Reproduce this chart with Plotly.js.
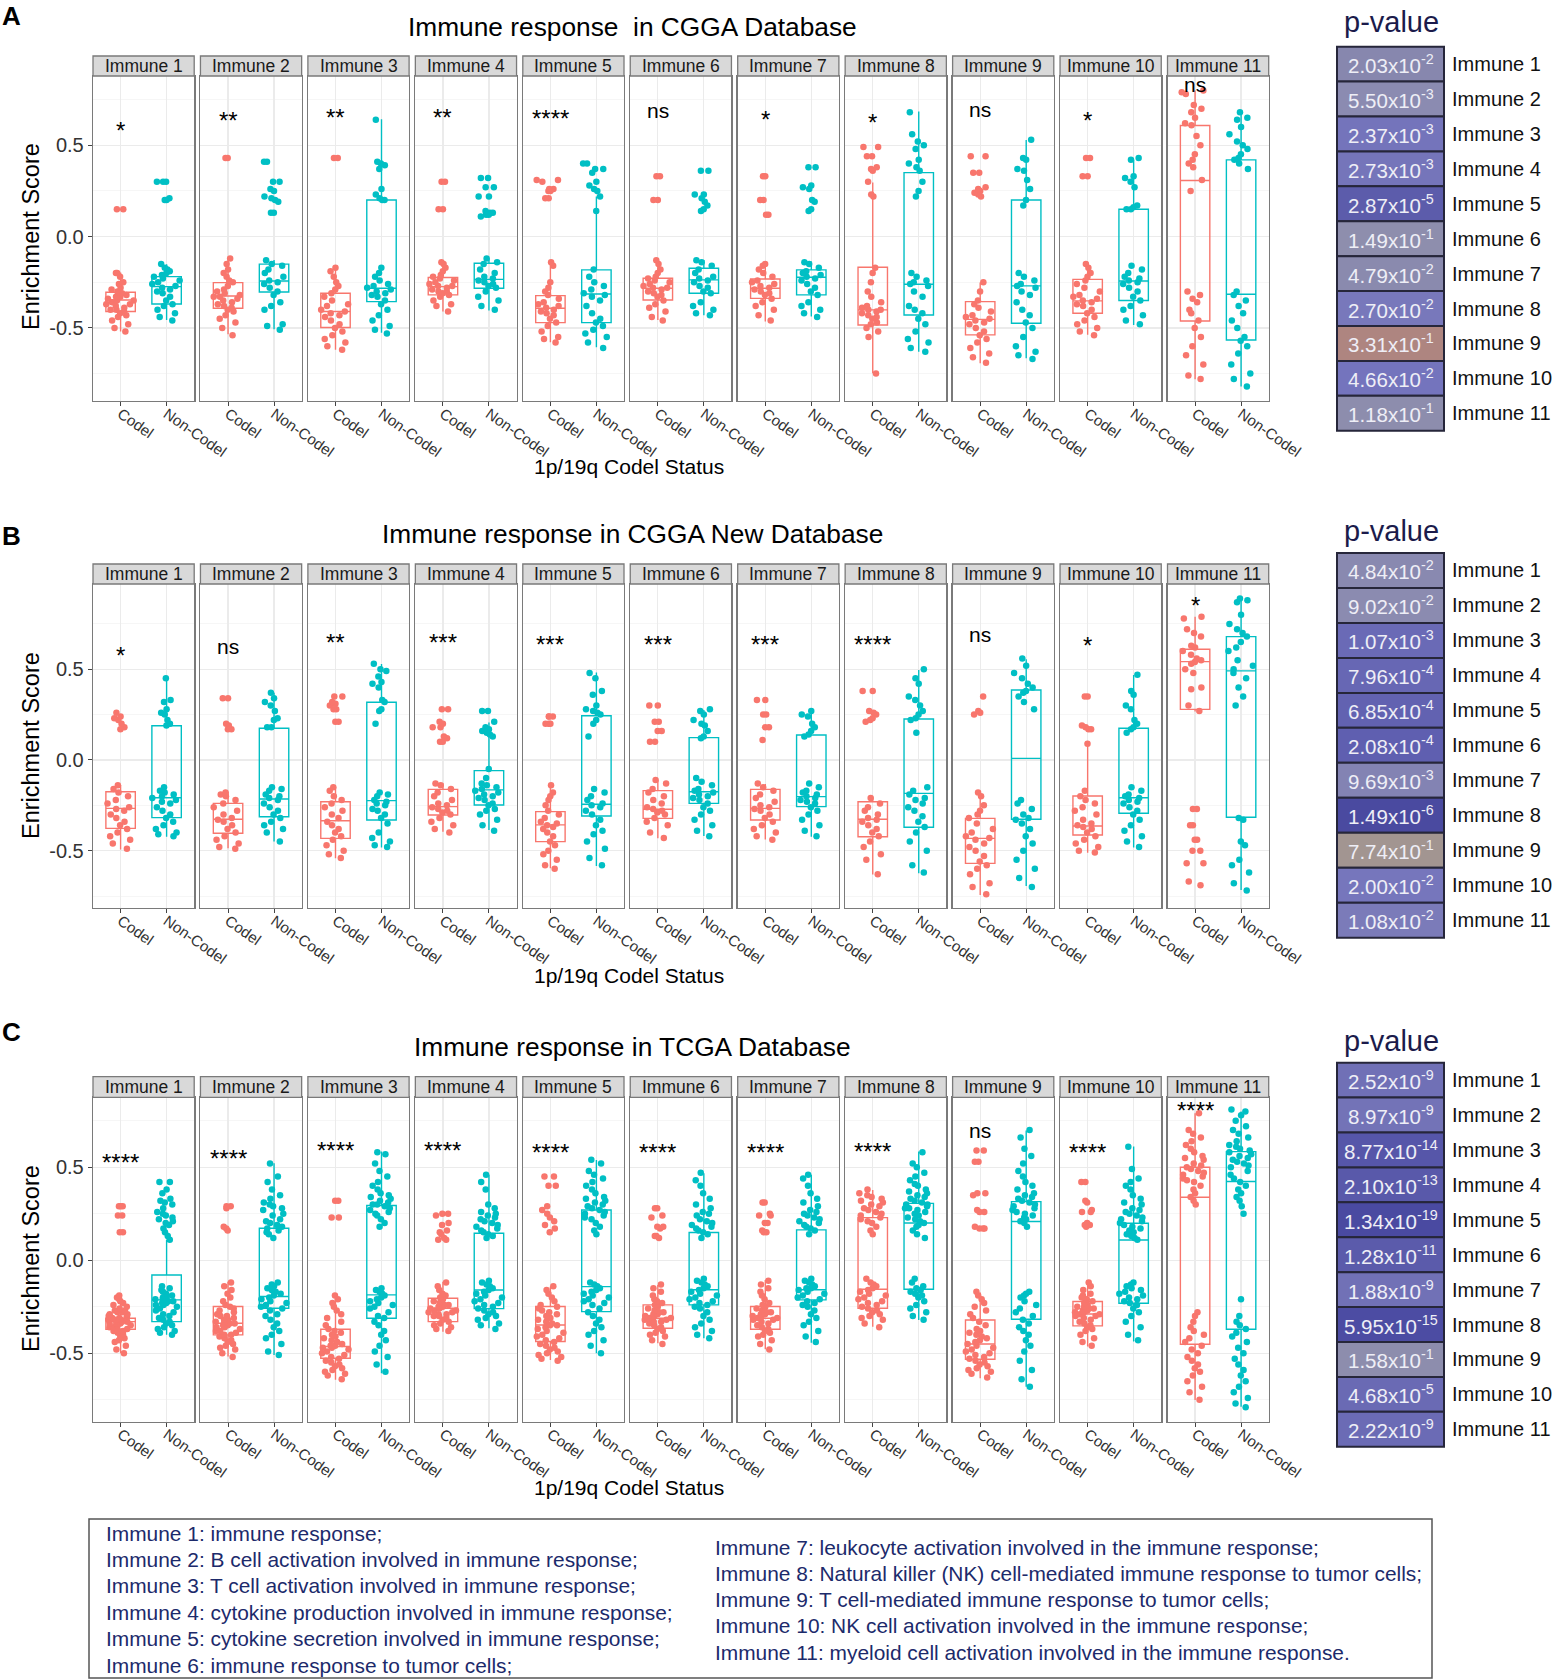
<!DOCTYPE html>
<html><head><meta charset="utf-8">
<script src="https://cdn.plot.ly/plotly-3.0.1.min.js"></script>
<style>body{margin:0;background:#fff}</style>
</head><body>
<div id="chart" style="width:1556px;height:1679px"></div>
<script>
// ---------------- DATA ----------------
const facetLabels=['Immune 1','Immune 2','Immune 3','Immune 4','Immune 5','Immune 6','Immune 7','Immune 8','Immune 9','Immune 10','Immune 11'];
const statusCats=['Codel','Non-Codel'];
const yTickVals=[-0.5,0,0.5];
const yTickText=['-0.5','0.0','0.5'];
const yMinorVals=[-0.75,-0.25,0.25,0.75];

// box stats: [lowerfence, q1, median, q3, upperfence]
const boxA_codel=[[-0.52,-0.41,-0.347,-0.305,-0.197],[-0.535,-0.392,-0.325,-0.252,-0.119],[-0.62,-0.498,-0.41,-0.31,-0.164],[-0.41,-0.319,-0.274,-0.224,-0.137],[-0.578,-0.471,-0.392,-0.323,-0.135],[-0.456,-0.347,-0.283,-0.228,-0.128],[-0.465,-0.338,-0.283,-0.232,-0.15],[-0.748,-0.484,-0.401,-0.168,0.296],[-0.693,-0.538,-0.453,-0.356,-0.252],[-0.538,-0.42,-0.352,-0.234,-0.15],[-0.781,-0.462,0.307,0.608,0.80]];
const boxA_non=[[-0.456,-0.369,-0.274,-0.219,-0.151],[-0.507,-0.303,-0.243,-0.151,-0.128],[-0.526,-0.356,-0.283,0.20,0.642],[-0.405,-0.283,-0.234,-0.146,-0.119],[-0.606,-0.471,-0.314,-0.182,0.219],[-0.43,-0.31,-0.237,-0.173,-0.128],[-0.438,-0.319,-0.223,-0.182,-0.137],[-0.63,-0.429,-0.261,0.35,0.684],[-0.666,-0.474,-0.27,0.20,0.529],[-0.484,-0.35,-0.243,0.15,0.42],[-0.821,-0.566,-0.316,0.42,0.675]];
const boxB_codel=[[-0.493,-0.377,-0.267,-0.175,-0.138],[-0.487,-0.404,-0.327,-0.239,-0.175],[-0.542,-0.432,-0.335,-0.23,-0.147],[-0.395,-0.303,-0.257,-0.162,-0.129],[-0.597,-0.45,-0.358,-0.285,-0.143],[-0.432,-0.322,-0.272,-0.169,-0.11],[-0.438,-0.331,-0.267,-0.162,-0.132],[-0.631,-0.423,-0.327,-0.23,-0.206],[-0.744,-0.57,-0.432,-0.322,-0.175],[-0.511,-0.414,-0.364,-0.199,0.088],[0.267,0.279,0.542,0.61,0.79]];
const boxB_non=[[-0.423,-0.318,-0.208,0.189,0.447],[-0.45,-0.313,-0.215,0.175,0.371],[-0.482,-0.331,-0.224,0.318,0.529],[-0.386,-0.248,-0.165,-0.059,0.206],[-0.585,-0.309,-0.244,0.244,0.482],[-0.419,-0.239,-0.175,0.123,0.276],[-0.423,-0.257,-0.202,0.138,0.267],[-0.625,-0.371,-0.184,0.226,0.496],[-0.695,-0.327,0.009,0.386,0.555],[-0.483,-0.294,-0.208,0.175,0.469],[-0.717,-0.316,0.491,0.68,0.886]];
const boxC_codel=[[-0.50,-0.371,-0.33,-0.312,-0.186],[-0.518,-0.401,-0.339,-0.249,-0.115],[-0.643,-0.527,-0.464,-0.371,-0.186],[-0.384,-0.33,-0.258,-0.204,-0.115],[-0.536,-0.437,-0.348,-0.249,-0.142],[-0.446,-0.366,-0.312,-0.24,-0.133],[-0.478,-0.371,-0.312,-0.249,-0.106],[-0.357,-0.258,-0.156,0.229,0.378],[-0.634,-0.532,-0.45,-0.321,-0.174],[-0.464,-0.353,-0.289,-0.222,-0.12],[-0.751,-0.452,0.339,0.50,0.79]];
const boxC_non=[[-0.401,-0.33,-0.213,-0.079,0.11],[-0.509,-0.258,-0.195,0.172,0.522],[-0.608,-0.312,-0.186,0.294,0.584],[-0.366,-0.26,-0.16,0.145,0.459],[-0.50,-0.276,-0.142,0.27,0.539],[-0.419,-0.24,-0.159,0.149,0.468],[-0.443,-0.213,-0.159,0.163,0.459],[-0.321,-0.156,0.20,0.306,0.584],[-0.68,-0.317,0.208,0.315,0.697],[-0.437,-0.231,0.109,0.199,0.611],[-0.787,-0.371,0.423,0.584,0.80]];

// enrichment scores of individual samples
const ptsA_codel=[
[0.15,0.15,-0.20,-0.20,-0.22,-0.25,-0.26,-0.28,-0.29,-0.30,-0.31,-0.32,-0.33,-0.33,-0.34,-0.35,-0.35,-0.36,-0.37,-0.37,-0.38,-0.39,-0.40,-0.40,-0.41,-0.42,-0.43,-0.44,-0.46,-0.48,-0.50,-0.52],
[0.43,0.43,-0.12,-0.15,-0.18,-0.20,-0.22,-0.24,-0.25,-0.27,-0.29,-0.30,-0.31,-0.32,-0.33,-0.33,-0.34,-0.35,-0.36,-0.37,-0.38,-0.39,-0.40,-0.41,-0.43,-0.45,-0.47,-0.50,-0.54],
[0.43,0.43,-0.17,-0.19,-0.22,-0.25,-0.27,-0.29,-0.31,-0.33,-0.35,-0.37,-0.38,-0.40,-0.41,-0.42,-0.43,-0.44,-0.46,-0.48,-0.50,-0.52,-0.54,-0.56,-0.58,-0.60,-0.62],
[0.30,0.30,0.15,0.15,-0.14,-0.15,-0.17,-0.19,-0.21,-0.22,-0.23,-0.24,-0.25,-0.26,-0.27,-0.27,-0.28,-0.29,-0.30,-0.30,-0.31,-0.32,-0.33,-0.35,-0.37,-0.38,-0.41],
[0.31,0.31,0.30,0.26,0.26,0.25,0.25,0.21,0.21,-0.14,-0.16,-0.25,-0.28,-0.30,-0.32,-0.34,-0.36,-0.37,-0.38,-0.39,-0.40,-0.41,-0.42,-0.43,-0.45,-0.47,-0.49,-0.52,-0.55,-0.56,-0.58],
[0.33,0.33,0.20,0.20,-0.13,-0.15,-0.18,-0.20,-0.22,-0.23,-0.24,-0.25,-0.26,-0.27,-0.28,-0.28,-0.29,-0.30,-0.31,-0.32,-0.33,-0.35,-0.37,-0.39,-0.41,-0.44,-0.46],
[0.33,0.33,0.20,0.20,0.12,0.12,-0.15,-0.16,-0.18,-0.20,-0.22,-0.24,-0.25,-0.26,-0.27,-0.28,-0.29,-0.30,-0.31,-0.32,-0.34,-0.36,-0.38,-0.40,-0.43,-0.46],
[0.49,0.49,0.44,0.44,0.38,0.37,0.36,0.30,0.23,0.22,-0.17,-0.20,-0.25,-0.30,-0.33,-0.36,-0.38,-0.39,-0.40,-0.40,-0.41,-0.42,-0.43,-0.44,-0.45,-0.47,-0.48,-0.50,-0.52,-0.55,-0.75],
[0.44,0.44,0.35,0.35,0.27,0.26,0.25,0.24,0.23,0.22,-0.25,-0.30,-0.35,-0.37,-0.39,-0.41,-0.43,-0.44,-0.45,-0.46,-0.47,-0.48,-0.50,-0.52,-0.54,-0.56,-0.58,-0.61,-0.64,-0.66,-0.69],
[0.43,0.43,0.33,0.33,-0.15,-0.17,-0.20,-0.22,-0.24,-0.26,-0.28,-0.30,-0.32,-0.33,-0.34,-0.35,-0.36,-0.37,-0.38,-0.40,-0.42,-0.44,-0.46,-0.48,-0.50,-0.52,-0.54],
[0.80,0.79,0.78,0.72,0.70,0.68,0.65,0.62,0.61,0.55,0.50,0.45,0.42,0.40,0.38,0.31,0.25,-0.30,-0.32,-0.34,-0.36,-0.40,-0.42,-0.46,-0.50,-0.55,-0.60,-0.65,-0.70,-0.76,-0.78]];
const ptsA_non=[
[0.30,0.30,0.30,0.21,0.20,0.20,-0.15,-0.17,-0.18,-0.19,-0.20,-0.21,-0.22,-0.23,-0.24,-0.25,-0.26,-0.27,-0.28,-0.29,-0.30,-0.31,-0.33,-0.35,-0.37,-0.38,-0.40,-0.42,-0.44,-0.46],
[0.41,0.41,0.30,0.30,0.26,0.25,0.22,0.21,0.20,0.19,0.13,0.13,-0.13,-0.15,-0.16,-0.18,-0.20,-0.22,-0.24,-0.25,-0.26,-0.28,-0.30,-0.32,-0.36,-0.38,-0.40,-0.48,-0.49,-0.51],
[0.64,0.41,0.40,0.39,0.37,0.26,0.23,0.21,0.20,0.20,-0.17,-0.20,-0.22,-0.24,-0.26,-0.27,-0.28,-0.29,-0.30,-0.31,-0.32,-0.33,-0.35,-0.37,-0.40,-0.43,-0.46,-0.49,-0.51,-0.53],
[0.32,0.32,0.27,0.27,0.22,0.22,0.14,0.13,0.13,0.12,0.12,0.11,-0.12,-0.14,-0.15,-0.18,-0.20,-0.22,-0.23,-0.24,-0.25,-0.26,-0.27,-0.28,-0.30,-0.33,-0.35,-0.38,-0.40],
[0.40,0.40,0.37,0.37,0.35,0.30,0.28,0.26,0.25,0.22,0.14,-0.18,-0.22,-0.25,-0.27,-0.29,-0.31,-0.32,-0.33,-0.35,-0.38,-0.42,-0.45,-0.47,-0.49,-0.51,-0.53,-0.55,-0.58,-0.61],
[0.36,0.36,0.23,0.23,0.21,0.19,0.17,0.15,0.14,-0.13,-0.14,-0.16,-0.18,-0.20,-0.22,-0.23,-0.24,-0.25,-0.27,-0.28,-0.30,-0.31,-0.36,-0.38,-0.40,-0.42,-0.43],
[0.38,0.38,0.28,0.27,0.26,0.20,0.19,0.15,0.14,-0.14,-0.15,-0.17,-0.19,-0.20,-0.21,-0.22,-0.23,-0.24,-0.26,-0.28,-0.30,-0.32,-0.36,-0.38,-0.40,-0.42,-0.44],
[0.68,0.56,0.52,0.50,0.48,0.42,0.40,0.38,0.36,0.30,0.25,0.22,-0.20,-0.22,-0.24,-0.25,-0.26,-0.27,-0.30,-0.33,-0.38,-0.40,-0.42,-0.45,-0.48,-0.52,-0.56,-0.58,-0.61,-0.63],
[0.53,0.43,0.42,0.37,0.36,0.31,0.26,0.20,0.17,-0.20,-0.22,-0.24,-0.26,-0.27,-0.28,-0.30,-0.32,-0.36,-0.40,-0.43,-0.47,-0.50,-0.55,-0.60,-0.63,-0.65,-0.67],
[0.43,0.42,0.33,0.32,0.30,0.27,0.17,0.16,0.15,0.15,-0.16,-0.18,-0.20,-0.22,-0.23,-0.24,-0.25,-0.26,-0.28,-0.30,-0.33,-0.35,-0.38,-0.40,-0.43,-0.46,-0.48],
[0.68,0.65,0.64,0.60,0.56,0.52,0.50,0.48,0.45,0.43,0.42,0.40,0.37,-0.30,-0.32,-0.35,-0.38,-0.42,-0.46,-0.50,-0.55,-0.57,-0.60,-0.64,-0.70,-0.75,-0.78,-0.82]];
const ptsB_codel=[
[0.26,0.24,0.23,0.22,0.20,0.18,0.17,-0.14,-0.16,-0.18,-0.20,-0.22,-0.24,-0.26,-0.27,-0.28,-0.30,-0.32,-0.34,-0.36,-0.38,-0.40,-0.42,-0.44,-0.46,-0.49],
[0.34,0.34,0.20,0.19,0.17,0.17,-0.18,-0.19,-0.20,-0.22,-0.24,-0.26,-0.28,-0.30,-0.32,-0.33,-0.34,-0.36,-0.38,-0.40,-0.42,-0.44,-0.46,-0.48,-0.49],
[0.35,0.35,0.32,0.31,0.30,0.28,0.28,0.21,0.21,-0.15,-0.17,-0.20,-0.22,-0.24,-0.26,-0.28,-0.30,-0.32,-0.34,-0.36,-0.38,-0.40,-0.42,-0.44,-0.47,-0.50,-0.52,-0.54],
[0.28,0.28,0.21,0.20,0.18,0.18,0.13,0.12,0.10,0.10,-0.13,-0.14,-0.16,-0.18,-0.20,-0.22,-0.24,-0.25,-0.26,-0.27,-0.28,-0.29,-0.30,-0.32,-0.34,-0.36,-0.38,-0.40],
[0.24,0.24,0.24,0.20,0.20,0.20,-0.14,-0.18,-0.20,-0.22,-0.25,-0.28,-0.30,-0.32,-0.34,-0.35,-0.36,-0.37,-0.38,-0.40,-0.42,-0.45,-0.47,-0.50,-0.52,-0.55,-0.58,-0.60],
[0.30,0.30,0.21,0.21,0.16,0.16,0.10,0.10,-0.11,-0.13,-0.16,-0.18,-0.20,-0.22,-0.24,-0.26,-0.27,-0.28,-0.29,-0.30,-0.32,-0.34,-0.36,-0.40,-0.43],
[0.33,0.33,0.25,0.25,0.18,0.18,0.11,-0.13,-0.15,-0.17,-0.19,-0.21,-0.23,-0.25,-0.26,-0.27,-0.28,-0.30,-0.32,-0.34,-0.36,-0.38,-0.40,-0.42,-0.44],
[0.38,0.38,0.27,0.26,0.25,0.23,0.22,0.21,-0.21,-0.24,-0.26,-0.28,-0.30,-0.32,-0.33,-0.34,-0.36,-0.38,-0.40,-0.42,-0.45,-0.48,-0.52,-0.55,-0.63],
[0.35,0.27,0.26,0.25,-0.18,-0.20,-0.25,-0.28,-0.30,-0.32,-0.35,-0.38,-0.40,-0.42,-0.43,-0.44,-0.46,-0.48,-0.50,-0.53,-0.56,-0.58,-0.60,-0.63,-0.68,-0.70,-0.74],
[0.35,0.35,0.19,0.18,0.17,0.17,0.09,-0.17,-0.20,-0.22,-0.24,-0.26,-0.28,-0.30,-0.33,-0.35,-0.36,-0.37,-0.38,-0.40,-0.42,-0.44,-0.46,-0.48,-0.50,-0.51],
[0.79,0.78,0.72,0.70,0.68,0.63,0.62,0.60,0.58,0.56,0.55,0.54,0.53,0.50,0.48,0.40,0.39,0.30,0.27,-0.27,-0.27,-0.36,-0.36,-0.44,-0.44,-0.50,-0.50,-0.57,-0.57,-0.67,-0.69]];
const ptsB_non=[
[0.45,0.33,0.32,0.28,0.26,0.25,0.22,0.20,0.19,-0.15,-0.17,-0.18,-0.19,-0.20,-0.21,-0.22,-0.23,-0.24,-0.26,-0.28,-0.30,-0.32,-0.34,-0.36,-0.38,-0.40,-0.41,-0.42],
[0.37,0.34,0.32,0.30,0.27,0.23,0.22,0.18,0.18,-0.15,-0.16,-0.17,-0.19,-0.20,-0.21,-0.22,-0.24,-0.26,-0.28,-0.30,-0.32,-0.34,-0.36,-0.38,-0.40,-0.45],
[0.53,0.50,0.49,0.46,0.43,0.42,0.40,0.33,0.32,0.28,0.27,0.20,-0.18,-0.19,-0.20,-0.22,-0.23,-0.24,-0.25,-0.27,-0.28,-0.30,-0.32,-0.35,-0.40,-0.43,-0.45,-0.47,-0.48],
[0.27,0.27,0.21,0.18,0.17,0.16,0.15,0.14,0.13,-0.05,-0.10,-0.13,-0.14,-0.15,-0.16,-0.17,-0.18,-0.19,-0.20,-0.21,-0.22,-0.24,-0.25,-0.27,-0.28,-0.30,-0.33,-0.36,-0.39],
[0.48,0.45,0.38,0.36,0.30,0.28,0.27,0.26,0.25,0.22,0.20,0.13,-0.16,-0.18,-0.20,-0.22,-0.24,-0.25,-0.26,-0.28,-0.30,-0.33,-0.36,-0.39,-0.41,-0.45,-0.49,-0.54,-0.58],
[0.28,0.27,0.25,0.22,0.20,0.19,0.16,0.13,0.12,-0.10,-0.12,-0.14,-0.16,-0.17,-0.18,-0.19,-0.20,-0.21,-0.22,-0.24,-0.26,-0.28,-0.30,-0.33,-0.36,-0.39,-0.42],
[0.27,0.25,0.24,0.20,0.18,0.16,0.14,0.13,-0.13,-0.15,-0.17,-0.18,-0.19,-0.20,-0.21,-0.22,-0.23,-0.24,-0.26,-0.28,-0.30,-0.33,-0.36,-0.39,-0.42],
[0.50,0.45,0.42,0.35,0.33,0.30,0.27,0.25,0.23,0.22,0.15,-0.15,-0.17,-0.19,-0.21,-0.22,-0.24,-0.26,-0.28,-0.31,-0.34,-0.37,-0.40,-0.45,-0.50,-0.58,-0.62],
[0.56,0.52,0.48,0.45,0.42,0.40,0.38,0.37,0.35,0.32,0.28,-0.22,-0.24,-0.27,-0.30,-0.32,-0.33,-0.35,-0.38,-0.42,-0.46,-0.50,-0.55,-0.60,-0.65,-0.70],
[0.47,0.38,0.36,0.30,0.28,0.22,0.20,0.18,0.17,0.15,-0.15,-0.17,-0.19,-0.20,-0.21,-0.22,-0.23,-0.24,-0.26,-0.28,-0.30,-0.33,-0.36,-0.39,-0.42,-0.45,-0.48],
[0.89,0.88,0.87,0.80,0.75,0.72,0.70,0.68,0.65,0.62,0.60,0.55,0.52,0.50,0.48,0.45,0.40,0.35,0.30,-0.32,-0.33,-0.45,-0.47,-0.55,-0.58,-0.62,-0.68,-0.72]];
const ptsC_codel=[
[0.29,0.29,0.29,0.24,0.24,0.15,0.15,-0.19,-0.20,-0.21,-0.22,-0.23,-0.24,-0.25,-0.26,-0.27,-0.27,-0.28,-0.28,-0.29,-0.29,-0.30,-0.30,-0.31,-0.31,-0.31,-0.32,-0.32,-0.32,-0.33,-0.33,-0.33,-0.34,-0.34,-0.34,-0.35,-0.35,-0.36,-0.36,-0.37,-0.37,-0.38,-0.38,-0.39,-0.40,-0.41,-0.42,-0.43,-0.44,-0.46,-0.48,-0.50],
[0.29,0.29,0.28,0.18,0.17,0.16,-0.12,-0.14,-0.16,-0.18,-0.20,-0.22,-0.24,-0.25,-0.26,-0.27,-0.28,-0.29,-0.30,-0.30,-0.31,-0.32,-0.32,-0.33,-0.33,-0.34,-0.34,-0.35,-0.35,-0.36,-0.36,-0.37,-0.38,-0.38,-0.39,-0.40,-0.40,-0.41,-0.42,-0.43,-0.44,-0.45,-0.46,-0.47,-0.48,-0.50,-0.52],
[0.32,0.32,0.23,0.23,-0.19,-0.21,-0.23,-0.25,-0.27,-0.29,-0.31,-0.33,-0.35,-0.37,-0.38,-0.39,-0.40,-0.41,-0.42,-0.43,-0.44,-0.45,-0.46,-0.46,-0.47,-0.47,-0.48,-0.49,-0.50,-0.51,-0.52,-0.53,-0.54,-0.55,-0.56,-0.57,-0.58,-0.59,-0.60,-0.61,-0.62,-0.64],
[0.25,0.25,0.24,0.20,0.19,0.16,0.15,0.14,0.12,0.11,0.11,-0.12,-0.14,-0.16,-0.18,-0.19,-0.20,-0.21,-0.22,-0.23,-0.24,-0.24,-0.25,-0.25,-0.26,-0.26,-0.27,-0.27,-0.28,-0.28,-0.29,-0.29,-0.30,-0.30,-0.31,-0.32,-0.33,-0.34,-0.35,-0.36,-0.37,-0.38],
[0.45,0.45,0.40,0.40,0.29,0.27,0.25,0.23,0.21,0.19,0.17,0.15,-0.14,-0.16,-0.18,-0.20,-0.22,-0.24,-0.25,-0.26,-0.27,-0.28,-0.29,-0.30,-0.31,-0.32,-0.33,-0.34,-0.35,-0.35,-0.36,-0.37,-0.38,-0.39,-0.40,-0.41,-0.42,-0.43,-0.44,-0.45,-0.46,-0.47,-0.48,-0.49,-0.50,-0.51,-0.52,-0.53,-0.54],
[0.28,0.28,0.24,0.23,0.18,0.18,0.17,0.13,0.13,0.12,-0.13,-0.15,-0.17,-0.19,-0.21,-0.22,-0.23,-0.24,-0.25,-0.26,-0.27,-0.28,-0.28,-0.29,-0.29,-0.30,-0.30,-0.31,-0.31,-0.32,-0.32,-0.33,-0.33,-0.34,-0.35,-0.36,-0.37,-0.38,-0.39,-0.40,-0.41,-0.43,-0.45],
[0.31,0.31,0.25,0.24,0.24,0.20,0.20,0.16,0.15,0.15,-0.11,-0.13,-0.15,-0.17,-0.19,-0.21,-0.23,-0.24,-0.25,-0.26,-0.27,-0.28,-0.28,-0.29,-0.29,-0.30,-0.30,-0.31,-0.31,-0.32,-0.32,-0.33,-0.34,-0.35,-0.36,-0.37,-0.38,-0.39,-0.40,-0.41,-0.43,-0.45,-0.48],
[0.38,0.36,0.35,0.34,0.33,0.32,0.31,0.30,0.29,0.28,0.27,0.26,0.25,0.24,0.23,0.22,0.21,0.20,0.18,0.16,0.14,-0.10,-0.12,-0.13,-0.14,-0.15,-0.16,-0.17,-0.18,-0.19,-0.20,-0.21,-0.22,-0.23,-0.24,-0.25,-0.26,-0.27,-0.28,-0.29,-0.30,-0.31,-0.32,-0.34,-0.36],
[0.59,0.59,0.53,0.53,0.36,0.36,0.35,0.27,0.26,0.26,0.18,0.17,0.17,0.17,-0.17,-0.19,-0.21,-0.23,-0.25,-0.27,-0.29,-0.31,-0.33,-0.35,-0.37,-0.38,-0.39,-0.40,-0.41,-0.42,-0.43,-0.44,-0.45,-0.46,-0.47,-0.48,-0.49,-0.50,-0.51,-0.52,-0.53,-0.54,-0.55,-0.56,-0.57,-0.58,-0.59,-0.60,-0.61,-0.63],
[0.42,0.42,0.32,0.31,0.27,0.26,0.26,0.20,0.19,0.19,0.18,-0.12,-0.14,-0.16,-0.18,-0.19,-0.20,-0.21,-0.22,-0.23,-0.24,-0.25,-0.25,-0.26,-0.26,-0.27,-0.27,-0.28,-0.28,-0.29,-0.29,-0.30,-0.30,-0.31,-0.32,-0.33,-0.34,-0.35,-0.36,-0.37,-0.38,-0.40,-0.42,-0.44,-0.46],
[0.79,0.70,0.68,0.66,0.64,0.62,0.60,0.58,0.56,0.55,0.54,0.52,0.51,0.50,0.49,0.48,0.47,0.46,0.45,0.44,0.43,0.42,0.40,0.38,0.36,0.34,0.32,0.30,-0.28,-0.30,-0.33,-0.36,-0.38,-0.40,-0.42,-0.44,-0.46,-0.48,-0.50,-0.52,-0.54,-0.56,-0.58,-0.60,-0.62,-0.65,-0.68,-0.71,-0.75]];
const ptsC_non=[
[0.42,0.42,0.38,0.36,0.33,0.32,0.31,0.30,0.28,0.26,0.25,0.24,0.23,0.22,0.21,0.20,0.19,0.17,0.15,0.13,0.11,-0.14,-0.15,-0.16,-0.17,-0.18,-0.19,-0.20,-0.20,-0.21,-0.21,-0.22,-0.22,-0.23,-0.23,-0.24,-0.24,-0.25,-0.26,-0.27,-0.28,-0.29,-0.30,-0.31,-0.32,-0.33,-0.34,-0.35,-0.36,-0.37,-0.38,-0.39,-0.40],
[0.52,0.45,0.42,0.38,0.35,0.33,0.31,0.30,0.29,0.28,0.27,0.25,0.24,0.22,0.21,0.20,0.19,0.18,0.17,0.16,0.15,0.14,0.12,-0.12,-0.13,-0.14,-0.15,-0.16,-0.17,-0.18,-0.19,-0.20,-0.21,-0.22,-0.23,-0.24,-0.25,-0.26,-0.27,-0.29,-0.30,-0.32,-0.34,-0.36,-0.38,-0.40,-0.42,-0.45,-0.49,-0.51],
[0.58,0.57,0.52,0.48,0.45,0.42,0.40,0.38,0.36,0.35,0.34,0.33,0.32,0.31,0.30,0.30,0.29,0.28,0.27,0.26,0.25,0.24,0.22,0.20,0.18,-0.15,-0.16,-0.17,-0.18,-0.19,-0.20,-0.21,-0.22,-0.23,-0.24,-0.25,-0.26,-0.28,-0.30,-0.31,-0.33,-0.35,-0.38,-0.40,-0.43,-0.46,-0.49,-0.52,-0.56,-0.60],
[0.46,0.42,0.38,0.30,0.28,0.26,0.25,0.24,0.23,0.22,0.21,0.20,0.19,0.18,0.17,0.16,0.15,0.14,0.13,0.12,-0.11,-0.12,-0.13,-0.14,-0.15,-0.16,-0.17,-0.18,-0.19,-0.20,-0.21,-0.22,-0.23,-0.24,-0.25,-0.26,-0.27,-0.28,-0.29,-0.30,-0.31,-0.32,-0.34,-0.35,-0.37],
[0.54,0.52,0.48,0.46,0.44,0.42,0.40,0.38,0.36,0.34,0.33,0.32,0.31,0.30,0.29,0.28,0.27,0.26,0.25,0.24,0.23,0.22,0.20,0.18,0.16,0.14,-0.12,-0.13,-0.14,-0.15,-0.16,-0.17,-0.18,-0.19,-0.20,-0.21,-0.22,-0.23,-0.24,-0.26,-0.28,-0.30,-0.32,-0.34,-0.36,-0.38,-0.40,-0.43,-0.46,-0.50],
[0.47,0.43,0.40,0.36,0.33,0.30,0.28,0.26,0.25,0.24,0.22,0.21,0.20,0.19,0.18,0.17,0.16,0.15,0.14,0.12,-0.10,-0.11,-0.12,-0.13,-0.14,-0.15,-0.16,-0.17,-0.18,-0.19,-0.20,-0.21,-0.22,-0.23,-0.24,-0.25,-0.26,-0.28,-0.30,-0.32,-0.34,-0.36,-0.38,-0.40,-0.42],
[0.46,0.44,0.40,0.36,0.33,0.31,0.29,0.27,0.26,0.25,0.24,0.23,0.22,0.21,0.20,0.19,0.18,0.17,0.16,0.14,-0.10,-0.11,-0.12,-0.13,-0.14,-0.15,-0.15,-0.16,-0.17,-0.18,-0.19,-0.20,-0.21,-0.22,-0.23,-0.24,-0.25,-0.27,-0.29,-0.31,-0.33,-0.35,-0.38,-0.41,-0.44],
[0.58,0.52,0.50,0.47,0.45,0.43,0.41,0.40,0.38,0.37,0.36,0.35,0.34,0.33,0.32,0.31,0.30,0.30,0.29,0.28,0.28,0.27,0.26,0.25,0.24,0.23,0.22,0.21,0.20,0.19,0.18,0.16,0.14,0.12,-0.10,-0.12,-0.14,-0.15,-0.16,-0.17,-0.18,-0.19,-0.20,-0.22,-0.24,-0.26,-0.28,-0.30,-0.32],
[0.70,0.66,0.60,0.56,0.52,0.48,0.45,0.42,0.40,0.38,0.36,0.35,0.34,0.33,0.32,0.31,0.30,0.29,0.28,0.27,0.26,0.25,0.24,0.23,0.22,0.21,0.20,0.18,-0.17,-0.18,-0.19,-0.20,-0.22,-0.24,-0.26,-0.28,-0.30,-0.32,-0.34,-0.36,-0.38,-0.40,-0.43,-0.46,-0.49,-0.54,-0.59,-0.64,-0.68],
[0.61,0.49,0.44,0.42,0.40,0.38,0.35,0.33,0.31,0.30,0.28,0.27,0.26,0.25,0.24,0.23,0.22,0.21,0.20,0.19,0.18,0.17,0.16,0.15,0.14,0.13,0.12,0.11,-0.12,-0.13,-0.14,-0.15,-0.16,-0.17,-0.18,-0.19,-0.20,-0.21,-0.22,-0.23,-0.24,-0.26,-0.28,-0.30,-0.33,-0.36,-0.40,-0.43],
[0.81,0.80,0.78,0.75,0.72,0.70,0.68,0.66,0.64,0.62,0.61,0.60,0.59,0.58,0.57,0.56,0.55,0.54,0.53,0.52,0.51,0.50,0.48,0.46,0.44,0.42,0.40,0.38,0.36,0.34,0.32,0.29,0.25,-0.21,-0.30,-0.33,-0.35,-0.37,-0.39,-0.41,-0.44,-0.47,-0.50,-0.53,-0.56,-0.59,-0.62,-0.65,-0.68,-0.71,-0.74,-0.77,-0.79]];

// significance labels and their heights
const sigA=['*','**','**','**','****','ns','*','*','ns','*','ns'];
const sigYA=[0.611,0.666,0.684,0.684,0.675,0.679,0.672,0.657,0.684,0.666,0.822];
const sigB=['*','ns','**','***','***','***','***','****','ns','*','*'];
const sigYB=[0.607,0.616,0.676,0.676,0.665,0.665,0.665,0.669,0.68,0.662,0.882];
const sigC=['****','****','****','****','****','****','****','****','ns','****','****'];
const sigYC=[0.557,0.575,0.62,0.62,0.611,0.608,0.608,0.615,0.686,0.607,0.835];

// p-values (mantissa, exponent)
const pMantA=[2.03,5.50,2.37,2.73,2.87,1.49,4.79,2.70,3.31,4.66,1.18];
const pExpA=[-2,-3,-3,-3,-5,-1,-2,-2,-1,-2,-1];
const pMantB=[4.84,9.02,1.07,7.96,6.85,2.08,9.69,1.49,7.74,2.00,1.08];
const pExpB=[-2,-2,-3,-4,-4,-4,-3,-6,-1,-2,-2];
const pMantC=[2.52,8.97,8.77,2.10,1.34,1.28,1.88,5.95,1.58,4.68,2.22];
const pExpC=[-9,-9,-14,-13,-19,-11,-9,-15,-1,-5,-9];

const panelTitles=['Immune response\u00a0 in CGGA Database','Immune response in CGGA New Database','Immune response in TCGA Database'];
const panelLetters=['A','B','C'];
const legendLeft=['Immune 1: immune response;','Immune 2: B cell activation involved in immune response;','Immune 3: T cell activation involved in immune response;','Immune 4: cytokine production involved in immune response;','Immune 5: cytokine secretion involved in immune response;','Immune 6: immune response to tumor cells;'];
const legendRight=['Immune 7: leukocyte activation involved in the immune response;','Immune 8: Natural killer (NK) cell-mediated immune response to tumor cells;','Immune 9: T cell-mediated immune response to tumor cells;','Immune 10: NK cell activation involved in the immune response;','Immune 11: myeloid cell activation involved in the immune response.'];

// ---------------- STYLE / GEOMETRY ----------------
const cellColA=['#8787ae','#8b8bb1','#7474bb','#7575ba','#5c5cab','#8e8ead','#8a8aae','#7878bb','#ae8580','#7474bd','#8d8dad'];
const cellColB=['#8989b0','#8b8bb0','#6a6ab6','#6767b4','#6262b1','#5f5fb0','#8383b3','#4a4aa0','#a29591','#7676bc','#7b7bb9'];
const cellColC=['#7070b6','#7373b7','#5656a9','#5959aa','#4a4aa1','#5b5bab','#7171b6','#4c4ca3','#8d8dad','#6a6ab4','#6b6bb5'];
const W=1556,H=1679;
const L=px=>px/W, T=py=>1-py/H;
const FONT='Liberation Sans, Arial, Helvetica, sans-serif';
const colCodel='#F8766D', colNon='#00BFC4';
const geom={facetLeft0:93,facetPitch:107.45,facetW:101.2,
 panels:[
  {stripTop:56,top:76,bottom:401,yr:[-0.90,0.879],titleY:27,letterY:16,ytitleY:237,xtitleY:466,pTitleY:22,tTop:46.7,tBot:430.7},
  {stripTop:564,top:584,bottom:908,yr:[-0.816,0.970],titleY:534,letterY:536,ytitleY:746,xtitleY:975,pTitleY:531,tTop:553,tBot:937.7},
  {stripTop:1076.7,top:1097.3,bottom:1421.7,yr:[-0.868,0.876],titleY:1047,letterY:1032,ytitleY:1259,xtitleY:1487,pTitleY:1041,tTop:1062.7,tBot:1446.7}]};

const panelsData=[
 {boxC:boxA_codel,boxN:boxA_non,ptsC:ptsA_codel,ptsN:ptsA_non,sig:sigA,sigY:sigYA,pm:pMantA,pe:pExpA,col:cellColA},
 {boxC:boxB_codel,boxN:boxB_non,ptsC:ptsB_codel,ptsN:ptsB_non,sig:sigB,sigY:sigYB,pm:pMantB,pe:pExpB,col:cellColB},
 {boxC:boxC_codel,boxN:boxC_non,ptsC:ptsC_codel,ptsN:ptsC_non,sig:sigC,sigY:sigYC,pm:pMantC,pe:pExpC,col:cellColC}];

const traces=[], ann=[], shapes=[];
const layout={width:W,height:H,margin:{l:0,r:0,t:0,b:0},paper_bgcolor:'#fff',plot_bgcolor:'#fff',
  showlegend:false,boxmode:'overlay',font:{family:FONT,color:'#000'}};

function addGroup(n,cat,stats,pts,color){
  const sfx=n===1?'':String(n);
  traces.push({type:'box',xaxis:'x'+sfx,yaxis:'y'+sfx,x:[cat],lowerfence:[stats[0]],q1:[stats[1]],median:[stats[2]],q3:[stats[3]],upperfence:[stats[4]],
    width:0.64,whiskerwidth:0,line:{color:color,width:1.4},fillcolor:'rgba(255,255,255,0)',boxpoints:false,hoverinfo:'skip',showlegend:false});
  traces.push({type:'box',xaxis:'x'+sfx,yaxis:'y'+sfx,x:pts.map(()=>cat),y:pts,boxpoints:'all',jitter:1,pointpos:0,
    width:0.64,whiskerwidth:0,line:{color:'rgba(0,0,0,0)',width:0},fillcolor:'rgba(0,0,0,0)',
    marker:{color:color,size:6.5,line:{width:0}},hoverinfo:'skip',showlegend:false});
}

panelsData.forEach((pd,p)=>{
  const g=geom.panels[p];
  for(let k=0;k<11;k++){
    const n=p*11+k+1, sfx=n===1?'':String(n);
    const left=geom.facetLeft0+k*geom.facetPitch, right=left+geom.facetW;
    layout['xaxis'+sfx]={domain:[L(left),L(right)],anchor:'y'+sfx,type:'category',categoryorder:'array',categoryarray:statusCats,
      range:[-0.6,1.6],showline:true,mirror:true,linecolor:'#7a7a7a',linewidth:1.3,showgrid:true,gridcolor:'#ebebeb',gridwidth:1.2,
      ticks:'outside',ticklen:4,tickcolor:'#444',tickwidth:1,tickangle:35,ticklabelstandoff:-7,tickfont:{size:15.2,color:'#333',family:FONT},zeroline:false,fixedrange:true};
    layout['yaxis'+sfx]={domain:[T(g.bottom),T(g.top)],anchor:'x'+sfx,range:g.yr,tickmode:'array',tickvals:yTickVals,ticktext:yTickText,
      showline:true,mirror:true,linecolor:'#7a7a7a',linewidth:1.3,showgrid:true,gridcolor:'#ebebeb',gridwidth:1.2,zeroline:false,
      minor:{tickmode:'array',tickvals:yMinorVals,showgrid:true,gridcolor:'#f4f4f4',gridwidth:0.8,ticks:''},
      showticklabels:k===0,ticks:k===0?'outside':'',ticklen:4,tickcolor:'#444',tickfont:{size:20,color:'#333',family:FONT},fixedrange:true};
    addGroup(n,statusCats[0],pd.boxC[k],pd.ptsC[k],colCodel);
    addGroup(n,statusCats[1],pd.boxN[k],pd.ptsN[k],colNon);
    // strip
    shapes.push({type:'rect',xref:'paper',yref:'paper',x0:L(left),x1:L(right),y0:T(g.top),y1:T(g.stripTop),fillcolor:'#d9d9d9',line:{color:'#7a7a7a',width:1.3},layer:'above'});
    ann.push({xref:'paper',yref:'paper',x:L((left+right)/2),y:T((g.top+g.stripTop)/2),text:facetLabels[k],showarrow:false,xanchor:'center',yanchor:'middle',font:{size:17.5,color:'#1a1a1a',family:FONT}});
    // significance
    const lab=pd.sig[k], isNs=lab==='ns', fs=isNs?21:24;
    ann.push({xref:'x'+sfx,yref:'y'+sfx,x:0,y:pd.sigY[k],text:lab,showarrow:false,xanchor:'center',yanchor:'middle',yshift:isNs?0.09*fs:-0.23*fs,font:{size:fs,color:'#000',family:FONT}});
    // p-value table
    const rh=(g.tBot-g.tTop)/11, y0=g.tTop+k*rh, y1=y0+rh;
    shapes.push({type:'rect',xref:'paper',yref:'paper',x0:L(1337),x1:L(1444),y0:T(y1),y1:T(y0),fillcolor:pd.col[k],line:{color:'#26263a',width:2},layer:'above'});
    ann.push({xref:'paper',yref:'paper',x:L(1390.5),y:T((y0+y1)/2),text:pd.pm[k].toFixed(2)+'x10<sup>'+pd.pe[k]+'</sup>',showarrow:false,xanchor:'center',yanchor:'middle',font:{size:20.5,color:'#eeeef6',family:FONT}});
    ann.push({xref:'paper',yref:'paper',x:L(1450),y:T((y0+y1)/2),text:facetLabels[k],showarrow:false,xanchor:'left',yanchor:'middle',font:{size:20,color:'#111',family:FONT}});
  }
  ann.push({xref:'paper',yref:'paper',x:L(11),y:T(g.letterY),text:'<b>'+panelLetters[p]+'</b>',showarrow:false,xanchor:'center',yanchor:'middle',font:{size:26,color:'#000',family:FONT}});
  ann.push({xref:'paper',yref:'paper',x:L(632),y:T(g.titleY),text:panelTitles[p],showarrow:false,xanchor:'center',yanchor:'middle',font:{size:26.3,color:'#000',family:FONT}});
  ann.push({xref:'paper',yref:'paper',x:L(31),y:T(g.ytitleY),text:'Enrichment Score',textangle:-90,showarrow:false,xanchor:'center',yanchor:'middle',font:{size:23.5,color:'#000',family:FONT}});
  ann.push({xref:'paper',yref:'paper',x:L(629),y:T(g.xtitleY),text:'1p/19q Codel Status',showarrow:false,xanchor:'center',yanchor:'middle',font:{size:21,color:'#000',family:FONT}});
  ann.push({xref:'paper',yref:'paper',x:L(1391),y:T(g.pTitleY),text:'p-value',showarrow:false,xanchor:'center',yanchor:'middle',font:{size:29,color:'#1b1b4b',family:FONT}});
});

// definitions box
shapes.push({type:'rect',xref:'paper',yref:'paper',x0:L(89),x1:L(1432),y0:T(1678),y1:T(1519),fillcolor:'rgba(0,0,0,0)',line:{color:'#555',width:1.5}});
legendLeft.forEach((t,i)=>ann.push({xref:'paper',yref:'paper',x:L(104),y:T(1533+i*26.4),text:t,showarrow:false,xanchor:'left',yanchor:'middle',font:{size:20.9,color:'#1c2a6b',family:FONT}}));
legendRight.forEach((t,i)=>ann.push({xref:'paper',yref:'paper',x:L(713),y:T(1547+i*26.3),text:t,showarrow:false,xanchor:'left',yanchor:'middle',font:{size:20.9,color:'#1c2a6b',family:FONT}}));

layout.annotations=ann; layout.shapes=shapes;
Plotly.newPlot('chart',traces,layout,{displayModeBar:false,staticPlot:true});
</script>
</body></html>
